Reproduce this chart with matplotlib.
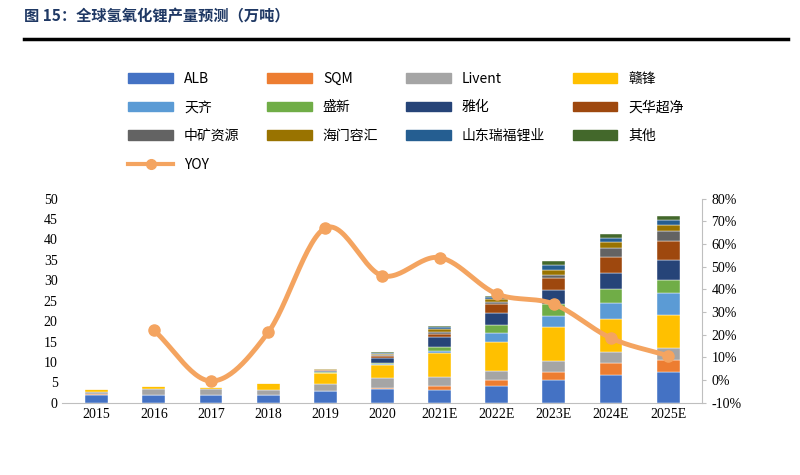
import matplotlib
matplotlib.use("Agg")
import matplotlib.pyplot as plt
import numpy as np
from matplotlib.lines import Line2D
from matplotlib.patches import Patch

plt.rcParams['font.family'] = ['Noto Sans CJK SC', 'DejaVu Sans']

years = ["2015","2016","2017","2018","2019","2020","2021E","2022E","2023E","2024E","2025E"]
names = ["ALB","SQM","Livent","赣锋","天齐","盛新","雅化","天华超净","中矿资源","海门容汇","山东瑞福锂业","其他"]
colors = ["#4472C4","#ED7D31","#A5A5A5","#FFC000","#5B9BD5","#70AD47","#264478","#9E480E","#636363","#997300","#255E91","#43682B"]
ALB     = [2.0,1.9,1.9,1.9,2.8,3.3,3.25,4.1,5.7,6.7,7.6]
SQM     = [0.1,0.1,0.1,0.1,0.1,0.4,0.8,1.4,1.8,3.0,2.9]
Livent  = [0.5,1.5,1.4,1.2,1.8,2.3,2.2,2.3,2.8,2.8,2.8]
Ganfeng = [0.7,0.6,0.5,1.6,2.5,3.2,5.9,7.2,8.2,8.0,8.2]
Tianqi  = [0,0,0,0,0.1,0.3,0.5,2.0,2.8,3.9,5.3]
Shengxin= [0,0,0,0,0.2,0.3,1.1,2.0,2.8,3.5,3.3]
Yahua   = [0,0,0,0,0.4,1.2,2.3,2.9,3.4,3.9,4.9]
Tianhua = [0,0,0,0,0.1,0.4,0.8,2.2,3.1,4.0,4.6]
Zhongkuang=[0,0,0,0,0.1,0.3,0.6,0.5,0.8,2.1,2.4]
Haimen  = [0,0,0,0,0.1,0.3,0.6,0.8,1.2,1.5,1.6]
Ruifu   = [0,0,0,0,0.05,0.2,0.4,0.5,1.1,1.0,1.1]
Other   = [0,0,0,0,0.05,0.2,0.3,0.3,1.1,0.8,1.0]
series = [ALB,SQM,Livent,Ganfeng,Tianqi,Shengxin,Yahua,Tianhua,Zhongkuang,Haimen,Ruifu,Other]
yoy_years = years[1:]
yoy = [22,-0.4,21,67,46,54,38,33.5,18.5,10.7]

fig = plt.figure(figsize=(8,4.75), dpi=100)
fig.text(0.03, 0.965, "图 15：全球氢氧化锂产量预测（万吨）", fontsize=11, fontweight='bold', color='#1F3864', va='center')
fig.add_artist(Line2D([0.03,0.985],[0.918,0.918], color='black', lw=2.5))

ax = fig.add_axes([0.078, 0.152, 0.80, 0.43])
x = np.arange(len(years))
bottom = np.zeros(len(years))
for s, c, n in zip(series, colors, names):
    ax.bar(x, s, 0.4, bottom=bottom, color=c, label=n, edgecolor='white', linewidth=0.3)
    bottom += np.array(s)
ax.set_ylim(0,50)
ax.set_yticks(range(0,51,5))
ax.set_xlim(-0.6, len(years)-0.4)
ax.set_xticks(x)
ax.set_xticklabels(years, fontfamily='Liberation Serif', fontsize=10)
for t in ax.get_yticklabels(): t.set_fontfamily('Liberation Serif'); t.set_fontsize(10)
for sp in ['top','right','left']: ax.spines[sp].set_visible(False)
ax.spines['bottom'].set_color('#BFBFBF')
ax.tick_params(length=0)

ax2 = ax.twinx()
xs = np.arange(1, len(years))
pts = np.array(list(zip(xs, yoy)), float)
P = np.vstack([pts[0]*2-pts[1], pts, pts[-1]*2-pts[-2]])
cx, cy = [], []
for i in range(1, len(P)-2):
    p0,p1,p2,p3 = P[i-1],P[i],P[i+1],P[i+2]
    t = np.linspace(0,1,30)[:,None]
    c = 0.5*((2*p1)+(-p0+p2)*t+(2*p0-5*p1+4*p2-p3)*t**2+(-p0+3*p1-3*p2+p3)*t**3)
    cx += list(c[:,0]); cy += list(c[:,1])
ax2.plot(cx, cy, color='#F4A460', lw=3.5, solid_capstyle='round', zorder=3)
ax2.plot(xs, yoy, 'o', color='#F4A460', ms=8, zorder=4)
ax2.set_ylim(-10,80)
ax2.set_yticks(range(-10,81,10))
ax2.set_yticklabels([f"{v}%" for v in range(-10,81,10)], fontfamily='Liberation Serif', fontsize=10)
for sp in ['top','left','bottom']: ax2.spines[sp].set_visible(False)
ax2.spines['right'].set_color('#BFBFBF')
ax2.tick_params(length=3, color='#BFBFBF')

handles = [Patch(color=c) for c in colors] + [Line2D([],[],color='#F4A460',lw=3,marker='o',ms=7)]
labels = names + ["YOY"]
order = [0,4,8,12, 1,5,9, 2,6,10, 3,7,11]
fig.legend([handles[i] for i in order], [labels[i] for i in order], loc='upper left',
           bbox_to_anchor=(0.145, 0.875), ncol=4,
           frameon=False, handlelength=3.2, handleheight=0.7, columnspacing=2.0,
           labelspacing=1.05, prop={'family':['Noto Sans CJK SC','DejaVu Sans'], 'size':10})
fig.savefig("out.png", dpi=100)
